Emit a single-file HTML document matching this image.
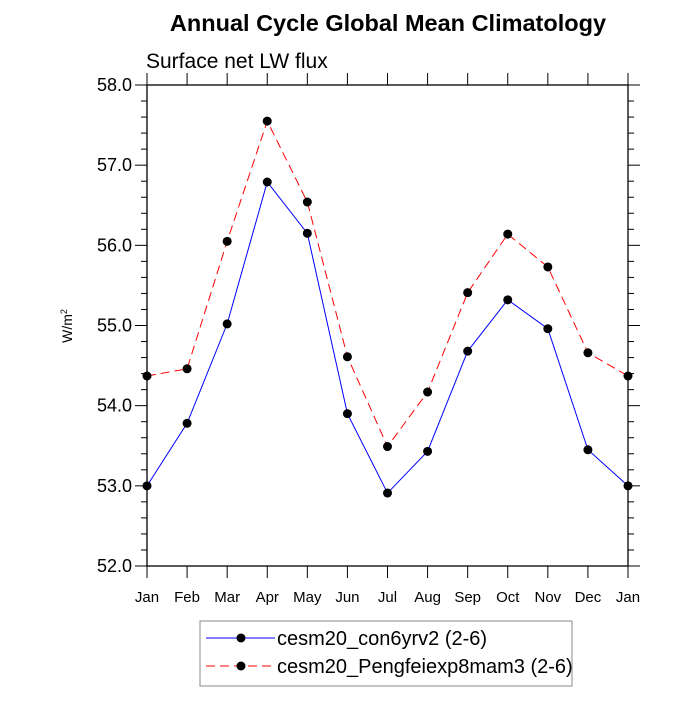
<!DOCTYPE html>
<html><head><meta charset="utf-8"><style>
body{margin:0;background:#fff}
svg text{font-family:"Liberation Sans",sans-serif}
</style></head><body>
<svg id="c" width="700" height="700" xmlns="http://www.w3.org/2000/svg">
<text x="388" y="31" text-anchor="middle" font-size="23.5" font-weight="bold">Annual Cycle Global Mean Climatology</text>
<text x="146" y="68" font-size="21">Surface net LW flux</text>
<text transform="translate(72,326) rotate(-90)" text-anchor="middle" font-size="14">W/m<tspan dy="-5" font-size="9">2</tspan></text>
<g id="g"></g>
<rect x="200" y="621" width="372" height="65" fill="#fff" stroke="#888"/>
<g>
<line x1="206" y1="638" x2="275" y2="638" stroke="#00f"/><circle cx="241" cy="638" r="4.5"/>
<text x="277" y="645" font-size="20">cesm20_con6yrv2 (2-6)</text></g>
<g>
<line x1="206" y1="666" x2="275" y2="666" stroke="#f00" stroke-dasharray="9,5"/><circle cx="241" cy="666" r="4.5"/>
<text x="277" y="673" font-size="20">cesm20_Pengfeiexp8mam3 (2-6)</text></g>
</svg>
<script>
const months=["Jan","Feb","Mar","Apr","May","Jun","Jul","Aug","Sep","Oct","Nov","Dec","Jan"];
const control=[53.0,53.78,55.02,56.79,56.15,53.9,52.91,53.43,54.68,55.32,54.96,53.45,53.0];
const experiment=[54.37,54.46,56.05,57.55,56.54,54.61,53.49,54.17,55.41,56.14,55.73,54.66,54.37];
const yTicks=["52.0","53.0","54.0","55.0","56.0","57.0","58.0"];
const NS="http://www.w3.org/2000/svg",g=document.getElementById('g');
const L=147,R=628,T=85,B=566;
const xs=i=>L+(R-L)*i/(months.length-1);
const ys=v=>B-(v-52)/6*(B-T);
function el(t,a){const e=document.createElementNS(NS,t);for(const k in a)e.setAttribute(k,a[k]);g.appendChild(e);return e;}
const frame=el('rect',{x:L,y:T,width:R-L,height:B-T,fill:'none',stroke:'#000','stroke-width':1.3});


for(let v=52;v<=58.001;v+=0.2){const y=ys(v);const major=Math.abs(v-Math.round(v))<0.01;
 const len=major?12:6;
 el('line',{x1:L-len,y1:y,x2:L,y2:y,stroke:'#000'});el('line',{x1:R,y1:y,x2:R+len,y2:y,stroke:'#000'});}
yTicks.forEach(t=>{const tx=el('text',{x:L-15,y:ys(+t)+6,'text-anchor':'end','font-size':18});tx.textContent=t;

});
months.forEach((m,i)=>{const x=xs(i);el('line',{x1:x,y1:B,x2:x,y2:B+12,stroke:'#000'});el('line',{x1:x,y1:T-12,x2:x,y2:T,stroke:'#000'});
const tx=el('text',{x:x,y:B+36,'text-anchor':'middle','font-size':15});tx.textContent=m;

});
function series(d,col,dash,name){
 const p=el('polyline',{points:d.map((v,i)=>xs(i)+','+ys(v)).join(' '),fill:'none',stroke:col,'stroke-width':1,'stroke-dasharray':dash});
 
 
 d.forEach((v,i)=>{const c=el('circle',{cx:xs(i),cy:ys(v),r:4.5,fill:'#000'});
 
 });}
series(experiment,'#f00','9,5','experiment');
series(control,'#00f','none','control');
</script>
</body></html>
